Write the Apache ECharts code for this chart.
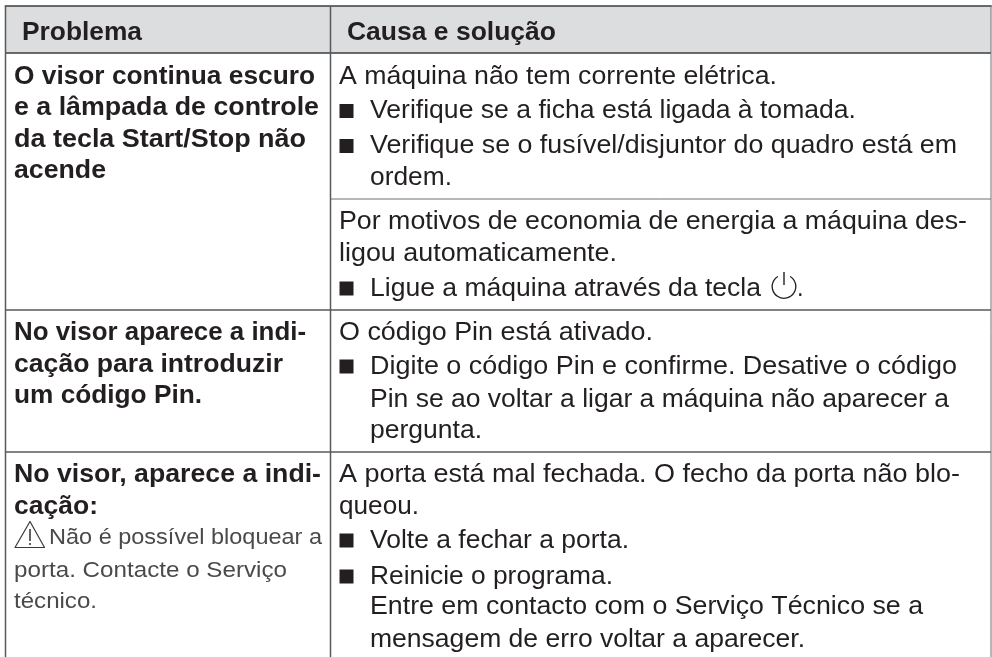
<!DOCTYPE html>
<html><head><meta charset="utf-8">
<style>html,body{margin:0;padding:0;background:#fff}#c{width:992px;height:657px}</style>
<script src="https://cdn.jsdelivr.net/npm/echarts@6/dist/echarts.min.js"></script>
</head><body><div id="c"></div>
<script>
const headers = ['Problema', 'Causa e solução'];
const problemLines = [
  'O visor continua escuro','e a lâmpada de controle','da tecla Start/Stop não','acende',
  'No visor aparece a indi-','cação para introduzir','um código Pin.',
  'No visor, aparece a indi-','cação:'
];
const messageLines = ['Não é possível bloquear a','porta. Contacte o Serviço','técnico.'];
const causeLines = [
  'A máquina não tem corrente elétrica.',
  'Por motivos de economia de energia a máquina des-','ligou automaticamente.',
  'O código Pin está ativado.',
  'A porta está mal fechada. O fecho da porta não blo-','queou.'
];
const bulletLines = [
  'Verifique se a ficha está ligada à tomada.',
  'Verifique se o fusível/disjuntor do quadro está em',
  'Ligue a máquina através da tecla',
  'Digite o código Pin e confirme. Desative o código',
  'Volte a fechar a porta.',
  'Reinicie o programa.'
];
const continuationLines = [
  'ordem.',
  'Pin se ao voltar a ligar a máquina não aparecer a','pergunta.',
  'Entre em contacto com o Serviço Técnico se a','mensagem de erro voltar a aparecer.'
];

// layout: baselines and right ends of each text line
const FONT = '"Liberation Sans", Arial, sans-serif';
const BODY = 25, MSG = 22.5, HEAD = 25;
const INK = '#231f20', RULE = '#58595b', DARK = '#3c3c3e';
const yProblem = [83,114.5,146,177, 339,371,402, 481,513];
const yMessage = [543,576,607];
const yCause = [83, 228,260, 339, 481,513];
const yBullet = [117.5,152.5,295, 373,547,583];
const yCont = [184, 406,437, 613,646];
const endHead = [142,556];
const endProblem = [315,319,306,106,306,283,202,321,98];
const endMessage = [322,287,97];
const endCause = [777,967,617,653,960,419];
const endBullet = [856,957,761,957,629,613];
const endCont = [452,949,482,923,805];
const X0=5.5, X1=330.5, X2=991, Y0=6, YH=53, YEND=657;
const mid = (b,s)=>b-s*0.345+2.5;
const ctx = document.createElement('canvas').getContext('2d');
const g = [];
const text=(s,x,b,size,weight,fill,end)=>{
  const font=`${weight} ${size}px ${FONT}`;
  ctx.font=font;
  const sx=(end-x)/ctx.measureText(s).width;
  g.push({type:'text',z:5,x:x,y:mid(b,size),scaleX:sx,style:{text:s,x:0,y:0,font,fill:fill||INK,verticalAlign:'middle',align:'left'}});
};
const line=(x1,y1,x2,y2,w,c)=>g.push({type:'line',z:3,shape:{x1,y1,x2,y2},style:{stroke:c||RULE,lineWidth:w}});
g.push({type:'rect',z:1,shape:{x:X0,y:Y0,width:X2-X0,height:YH-Y0},style:{fill:'#dcddde'}});
line(X0-0.75,Y0,X2+0.75,Y0,1.5,DARK); line(X0,YH,X2,YH,1.5,DARK);
line(X1,199,X2,199,1,'#6d6e70'); line(X0,310,X2,310,1.5); line(X0,452,X2,452,1.5);
line(X0,Y0,X0,YEND,1.5); line(X1,Y0,X1,YEND,1.5); line(X2,Y0,X2,YEND,1,'#6d6e70');
text(headers[0],22,39,HEAD,'bold',INK,endHead[0]); text(headers[1],347,39,HEAD,'bold',INK,endHead[1]);
problemLines.forEach((s,i)=>text(s,14,yProblem[i],BODY,'bold',INK,endProblem[i]));
messageLines.forEach((s,i)=>text(s,i?14:49,yMessage[i],MSG,'normal','#4a4a4c',endMessage[i]));
causeLines.forEach((s,i)=>text(s,339,yCause[i],BODY,'normal',INK,endCause[i]));
bulletLines.forEach((s,i)=>{
  text(s,370,yBullet[i],BODY,'normal',INK,endBullet[i]);
  g.push({type:'rect',z:4,shape:{x:339.5,y:yBullet[i]-13.5,width:14,height:14},style:{fill:INK}});
});
continuationLines.forEach((s,i)=>text(s,370,yCont[i],BODY,'normal',INK,endCont[i]));
text('.',797,295,BODY,'normal',INK,803.5);
// power symbol
g.push({type:'arc',z:5,shape:{cx:784,cy:286.5,r:11.8,startAngle:-Math.PI/2+0.55,endAngle:-Math.PI/2-0.55,clockwise:true},style:{stroke:INK,lineWidth:1.3,fill:'none'}});
line(784,272,784,285,1.4,INK);
// warning triangle
g.push({type:'polygon',z:5,shape:{points:[[30,521.5],[44.5,547.5],[15,547.5]]},style:{stroke:'#3a3a3c',lineWidth:1.2,fill:'none',lineJoin:'round'}});
line(30,529,30,541,1.6,'#3a3a3c'); line(30,543,30,545,1.6,'#3a3a3c');
const chart=echarts.init(document.getElementById('c'),null,{renderer:'canvas'});
chart.setOption({animation:false,backgroundColor:'#fff',graphic:{elements:g}});
</script></body></html>
